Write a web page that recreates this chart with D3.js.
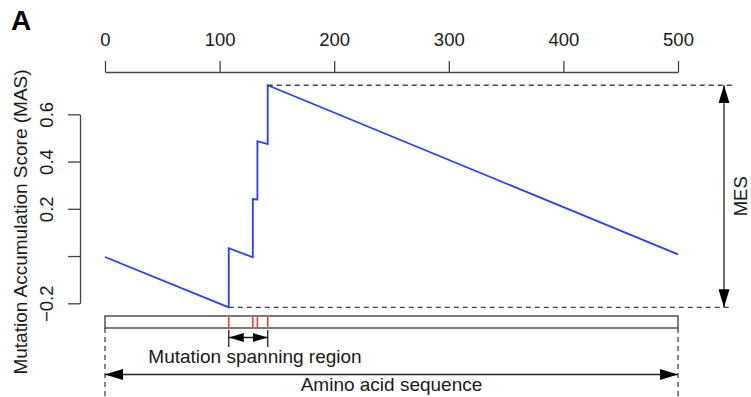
<!DOCTYPE html>
<html>
<head>
<meta charset="utf-8">
<script src="https://cdn.jsdelivr.net/npm/d3@7"></script>
<style>
  body { margin: 0; background: #fff; }
  svg { display: block; font-family: "Liberation Sans", Arial, sans-serif; }
</style>
</head>
<body>
<div id="chart"></div>
<script>
// Amino acid position and MAS value at each vertex of the step/slope curve
const positions = [0, 108, 108, 129, 129, 133, 133, 142, 142, 500];
const masValues = [-0.004, -0.217, 0.033, -0.005, 0.241, 0.239, 0.486, 0.474, 0.723, 0.007];
// Mutation sites (red marks on the sequence bar)
const mutations = [108, 129, 133, 142];
const xTicks = [0, 100, 200, 300, 400, 500];
const yTicks = [-0.2, 0, 0.2, 0.4, 0.6];

const width = 751, height = 397;
const axisColor = '#444';
const textColor = '#1a1a1a';

const svg = d3.select('#chart').append('svg')
    .attr('width', width)
    .attr('height', height);

const x = d3.scaleLinear().domain([0, 500]).range([105, 678]);
const y = d3.scaleLinear().domain([-0.2, 0.6]).range([303.3, 114.3]);

// Arrowhead markers
const defs = svg.append('defs');
function marker(id, len, half) {
    defs.append('marker')
        .attr('id', id)
        .attr('viewBox', `0 ${-half} ${len} ${half * 2}`)
        .attr('refX', len)
        .attr('refY', 0)
        .attr('markerUnits', 'userSpaceOnUse')
        .attr('markerWidth', len)
        .attr('markerHeight', half * 2)
        .attr('orient', 'auto-start-reverse')
        .append('path')
        .attr('d', `M0,${-half}L${len},0L0,${half}Z`)
        .attr('fill', '#000');
}
marker('arrBig', 18, 5.5);
marker('arrSmall', 15, 4.5);

// Panel label
svg.append('text')
    .attr('x', 11)
    .attr('y', 30)
    .attr('font-size', 28)
    .attr('font-weight', 'bold')
    .text('A');

// Top x axis
const gx = svg.append('g')
    .attr('transform', 'translate(0,72)')
    .call(d3.axisTop(x).tickValues(xTicks).tickSize(11).tickSizeOuter(0).tickPadding(15));
gx.selectAll('path, line').attr('stroke', axisColor).attr('stroke-width', 1.3);
gx.selectAll('text').attr('font-size', 18.5).attr('fill', textColor)
    .style('font-family', '"Liberation Sans", Arial, sans-serif');

// Left y axis with rotated labels
const gy = svg.append('g')
    .attr('transform', 'translate(80,0)')
    .call(d3.axisLeft(y).tickValues(yTicks).tickSize(12).tickSizeOuter(0)
        .tickFormat(d => d === 0 ? '' : d3.format('.1f')(d)));
gy.selectAll('path, line').attr('stroke', axisColor).attr('stroke-width', 1.3);
gy.selectAll('text')
    .attr('x', null).attr('dy', null)
    .attr('transform', 'translate(-27,0) rotate(-90)')
    .attr('text-anchor', 'middle')
    .attr('font-size', 18.5).attr('fill', textColor)
    .style('font-family', '"Liberation Sans", Arial, sans-serif');

// Y axis title
svg.append('text')
    .attr('transform', 'translate(27,222) rotate(-90)')
    .attr('text-anchor', 'middle')
    .attr('font-size', 19)
    .attr('fill', textColor)
    .text('Mutation Accumulation Score (MAS)');

// MES guides
const maxI = d3.maxIndex(masValues);
const minI = d3.minIndex(masValues);
const yMax = y(masValues[maxI]);
const yMin = y(masValues[minI]);
const mesX = 724;

svg.append('line')
    .attr('x1', x(positions[maxI])).attr('x2', 733)
    .attr('y1', yMax).attr('y2', yMax)
    .attr('stroke', axisColor).attr('stroke-width', 1.3).attr('stroke-dasharray', '5,4');
svg.append('line')
    .attr('x1', x(positions[minI])).attr('x2', 733)
    .attr('y1', yMin).attr('y2', yMin)
    .attr('stroke', axisColor).attr('stroke-width', 1.3).attr('stroke-dasharray', '5,4');
svg.append('line')
    .attr('x1', mesX).attr('x2', mesX)
    .attr('y1', yMax).attr('y2', yMin)
    .attr('stroke', '#222').attr('stroke-width', 1.3)
    .attr('marker-start', 'url(#arrBig)')
    .attr('marker-end', 'url(#arrBig)');
svg.append('text')
    .attr('transform', `translate(746.5,${(yMax + yMin) / 2}) rotate(-90)`)
    .attr('text-anchor', 'middle')
    .attr('font-size', 18.5)
    .attr('fill', textColor)
    .text('MES');

// MAS curve
const line = d3.line()
    .x((d, i) => x(positions[i]))
    .y((d, i) => y(masValues[i]));
svg.append('path')
    .datum(masValues)
    .attr('fill', 'none')
    .attr('stroke', '#2b3cff')
    .attr('stroke-width', 1.8)
    .attr('stroke-linejoin', 'miter')
    .attr('d', line);

// Sequence bar
const barTop = 316, barBottom = 328;
svg.append('rect')
    .attr('x', x(0)).attr('y', barTop)
    .attr('width', x(500) - x(0)).attr('height', barBottom - barTop)
    .attr('fill', 'none').attr('stroke', axisColor).attr('stroke-width', 1.4);
svg.selectAll('.mut')
    .data(mutations)
    .enter()
    .append('line')
    .attr('class', 'mut')
    .attr('x1', d => x(d)).attr('x2', d => x(d))
    .attr('y1', barTop + 0.7).attr('y2', barBottom - 0.7)
    .attr('stroke', '#ff3030').attr('stroke-width', 1.5);

// Dashed sequence boundaries
[0, 500].forEach(p => {
    svg.append('line')
        .attr('x1', x(p)).attr('x2', x(p))
        .attr('y1', barBottom).attr('y2', height)
        .attr('stroke', axisColor).attr('stroke-width', 1.3).attr('stroke-dasharray', '5,4');
});

// Mutation spanning region
const spanLo = d3.min(mutations), spanHi = d3.max(mutations);
[spanLo, spanHi].forEach(p => {
    svg.append('line')
        .attr('x1', x(p)).attr('x2', x(p))
        .attr('y1', 330).attr('y2', 347)
        .attr('stroke', '#222').attr('stroke-width', 1.3);
});
svg.append('line')
    .attr('x1', x(spanLo)).attr('x2', x(spanHi))
    .attr('y1', 337.5).attr('y2', 337.5)
    .attr('stroke', '#222').attr('stroke-width', 1.3)
    .attr('marker-start', 'url(#arrSmall)')
    .attr('marker-end', 'url(#arrSmall)');
svg.append('text')
    .attr('x', 255).attr('y', 363)
    .attr('text-anchor', 'middle')
    .attr('font-size', 19)
    .attr('fill', textColor)
    .text('Mutation spanning region');

// Amino acid sequence
svg.append('line')
    .attr('x1', x(0)).attr('x2', x(500))
    .attr('y1', 374.5).attr('y2', 374.5)
    .attr('stroke', '#222').attr('stroke-width', 1.3)
    .attr('marker-start', 'url(#arrBig)')
    .attr('marker-end', 'url(#arrBig)');
svg.append('text')
    .attr('x', (x(0) + x(500)) / 2).attr('y', 391)
    .attr('text-anchor', 'middle')
    .attr('font-size', 19)
    .attr('fill', textColor)
    .text('Amino acid sequence');
</script>
</body>
</html>
